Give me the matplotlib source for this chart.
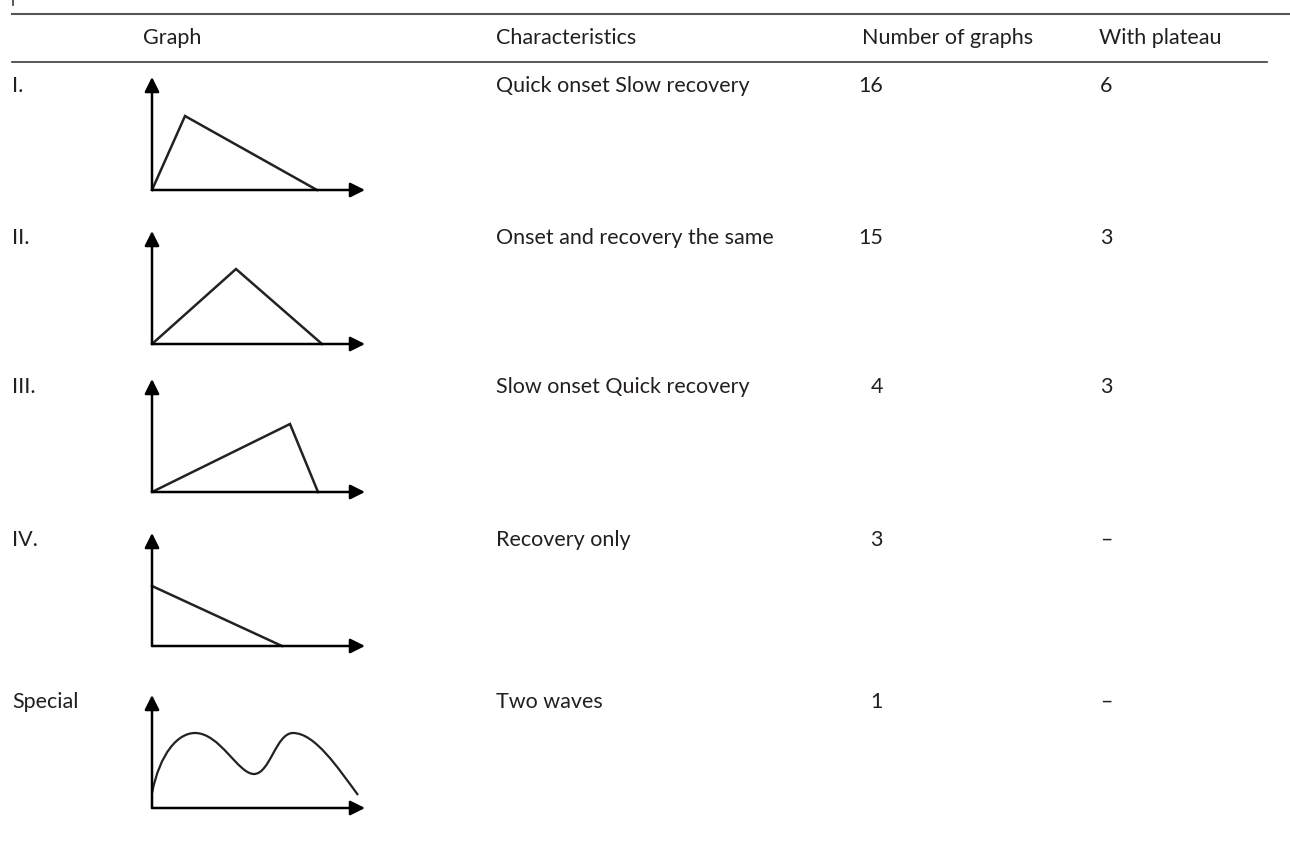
import matplotlib
matplotlib.use("Agg")
import matplotlib.pyplot as plt
from matplotlib.path import Path
from matplotlib.patches import PathPatch

# --- TABLE DATA ---
headers = ["Graph", "Characteristics", "Number of graphs", "With plateau"]
row_labels = ["I.", "II.", "III.", "IV.", "Special"]
characteristics = ["Quick onset Slow recovery", "Onset and recovery the same",
                   "Slow onset Quick recovery", "Recovery only", "Two waves"]
n_graphs = ["16", "15", "4", "3", "1"]
with_plateau = ["6", "3", "3", "\u2013", "\u2013"]

# icon shapes (local units, origin at the axes corner)
shape_x = [[0, 33, 165], [0, 84, 170], [0, 138, 166], [0, 130]]
shape_y = [[0, 74, 0], [0, 75, 0], [0, 68, 0], [60, 0]]
# two-wave curve as cubic bezier: start, (c1, c2, end) x4
wave_x = [0, 8, 26, 43, 68, 86, 102, 118, 124, 141, 163, 186, 206]
wave_y = [15, 55, 75, 75, 75, 34, 34, 34, 75, 75, 75, 40, 13]

W, H = 1290, 844
TXT = "#231f20"
LINE = "#3a3a3a"
FONT = "Lato"
FS = 15.5

fig = plt.figure(figsize=(W / 100, H / 100), dpi=100)
ax = fig.add_axes([0, 0, 1, 1])
ax.set_xlim(0, W)
ax.set_ylim(H, 0)
ax.axis("off")

# rules
ax.plot([13, 13], [0, 5], color=LINE, lw=1.2)
ax.plot([12, W], [14, 14], color="#555555", lw=1.5)
ax.plot([12, 1267], [62, 62], color=LINE, lw=1.2)

# header
header_x = [143, 496, 862, 1099]
for hx, h in zip(header_x, headers):
    ax.text(hx, 38, h, ha="left", va="center", fontsize=FS, color=TXT, family=FONT)

row_y = [86, 238, 387, 540, 702]
base_y = [190, 344, 492, 646, 808]

for i, ry in enumerate(row_y):
    ax.text(12, ry, row_labels[i], ha="left", va="center", fontsize=FS, color=TXT, family=FONT)
    ax.text(496, ry, characteristics[i], ha="left", va="center", fontsize=FS, color=TXT, family=FONT)
    ax.text(883, ry, n_graphs[i], ha="right", va="center", fontsize=FS, color=TXT, family=FONT)
    ax.text(1100, ry, with_plateau[i], ha="left", va="center", fontsize=FS, color=TXT, family=FONT)

    # small icon axes in pixel units, origin at (152, base)
    x0, x1, y0, y1 = -10, 225, -10, 122
    iax = fig.add_axes([(152 + x0) / W, (H - base_y[i] + y0) / H,
                        (x1 - x0) / W, (y1 - y0) / H])
    iax.set_xlim(x0, x1)
    iax.set_ylim(y0, y1)
    iax.axis("off")
    arrow = dict(arrowstyle="-|>", color="black", lw=1.8, mutation_scale=22,
                 shrinkA=0, shrinkB=0)
    iax.annotate("", xy=(213, 0), xytext=(0, 0), arrowprops=arrow)
    iax.annotate("", xy=(0, 113), xytext=(0, 0), arrowprops=arrow)
    if i < 4:
        iax.plot(shape_x[i], shape_y[i], color="#222222", lw=1.8, solid_joinstyle="miter")
    else:
        verts = list(zip(wave_x, wave_y))
        codes = [Path.MOVETO] + [Path.CURVE4] * (len(verts) - 1)
        iax.add_patch(PathPatch(Path(verts, codes), fill=False, ec="#222222", lw=1.6))

fig.savefig("out.png", dpi=100)
